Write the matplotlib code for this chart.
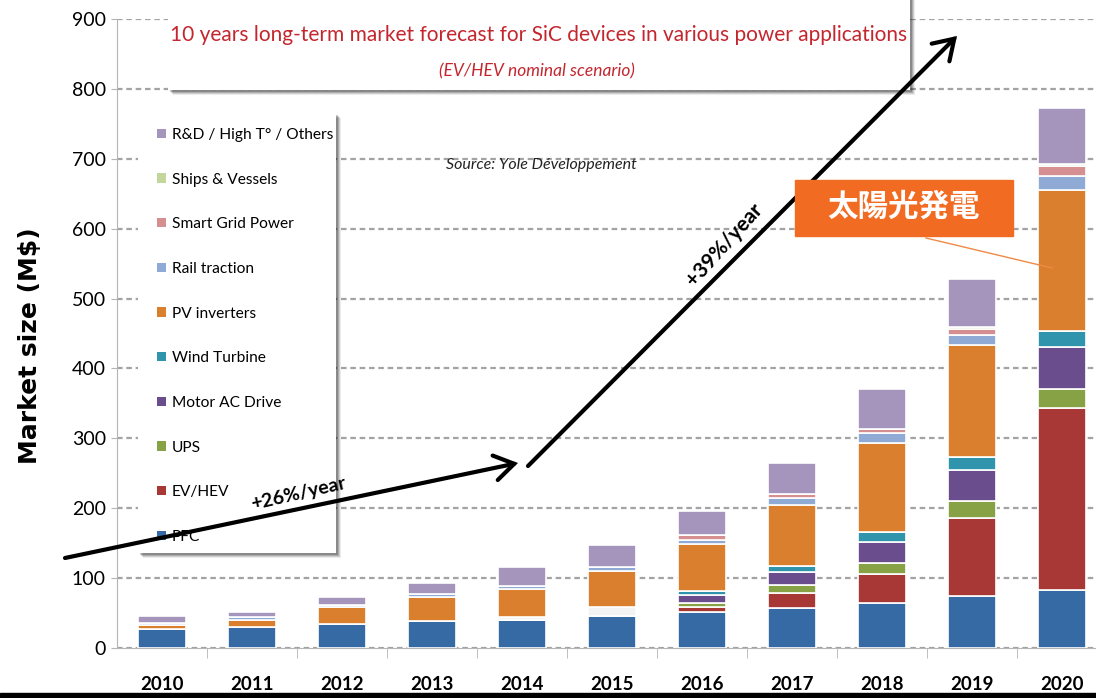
import matplotlib.pyplot as plt
import numpy as np
from matplotlib.patches import FancyArrowPatch, Rectangle

plt.rcParams["font.family"] = ["Lato", "DejaVu Sans"]

W, H = 1096, 698

years = ["2010", "2011", "2012", "2013", "2014", "2015",
         "2016", "2017", "2018", "2019", "2020"]

# market size per application, M$ (stacked bottom -> top)
pfc = [27, 30, 34, 38, 40, 46, 51, 57, 64, 74, 83]
ev_hev = [0, 0, 0, 0, 0, 0, 8, 22, 42, 112, 260]
ups = [0, 0, 0, 0, 0, 0, 6, 11, 16, 25, 28]
motor_ac = [0, 0, 0, 0, 0, 0, 11, 19, 30, 43, 59]
wind = [0, 0, 0, 0, 0, 0, 6, 8, 14, 19, 23]
unsplit = [0, 0, 0, 0, 5, 12, 0, 0, 0, 0, 0]
pv = [6, 10, 25, 35, 39, 52, 67, 88, 128, 160, 202]
rail = [3, 4, 2, 4, 5, 6, 6, 9, 13, 15, 21]
smart_grid = [0, 0, 0, 0, 0, 0, 6, 6, 6, 9, 13]
ships = [0, 0, 0, 0, 0, 0, 0, 0, 0, 3, 3]
others = [10, 8, 12, 16, 27, 31, 35, 45, 57, 68, 80]

series = [
    ("PFC", pfc, "#366aa5"),
    ("EV/HEV", ev_hev, "#a83836"),
    ("UPS", ups, "#86a244"),
    ("Motor AC Drive", motor_ac, "#6a4d8c"),
    ("Wind Turbine", wind, "#3194ad"),
    (None, unsplit, "#f3f3f3"),
    ("PV inverters", pv, "#da7f2d"),
    ("Rail traction", rail, "#8eaad5"),
    ("Smart Grid Power", smart_grid, "#d68f90"),
    ("Ships & Vessels", ships, "#c3d69b"),
    ("R&D / High T° / Others", others, "#a594bc"),
]


def fpos(x, y):
    # pixel position (from top-left) -> figure fraction
    return x / W, 1 - y / H


def shadow_box(x0, y0, w, h, z=2):
    # white panel with a soft drop shadow on the right / bottom
    for off, a in [(5, 0.08), (4, 0.12), (3, 0.16), (2, 0.2)]:
        fig.add_artist(Rectangle(fpos(x0 + off, y0 + h + off), w / W, h / H,
                                 transform=fig.transFigure, color="black",
                                 alpha=a, linewidth=0, zorder=z))
    fig.add_artist(Rectangle(fpos(x0, y0 + h), w / W, h / H,
                             transform=fig.transFigure, color="white",
                             linewidth=0, zorder=z))


fig = plt.figure(figsize=(W / 100, H / 100), dpi=100)
ax = fig.add_axes([117 / W, 50 / H, 990 / W, 629 / H])

x = np.arange(len(years))
bottom = np.zeros(len(years))
handles = {}
for name, vals, color in series:
    vals = np.array(vals, dtype=float)
    bars = ax.bar(x, vals, 0.54, bottom=bottom, color=color,
                  edgecolor="white", linewidth=1.2, zorder=3)
    if name:
        handles[name] = bars
    bottom += vals

ax.set_xlim(-0.5, len(years) - 0.5)
ax.set_ylim(0, 900)
ax.set_yticks(range(0, 901, 100))
ax.yaxis.grid(True, linestyle=(0, (2.5, 1.7)), linewidth=1.6, color="#a3a3a3")
ax.set_axisbelow(True)
for s in ["top", "right"]:
    ax.spines[s].set_visible(False)
ax.spines["left"].set_color("#b5b5b5")
ax.spines["bottom"].set_color("#b5b5b5")

ax.set_xticks(x)
ax.set_xticklabels(years, fontsize=13.5, fontweight="bold")
ax.set_xticks(np.arange(len(years) - 1) + 0.5, minor=True)
ax.tick_params(axis="x", which="major", length=0, pad=20)
ax.tick_params(axis="x", which="minor", length=7, color="#b5b5b5")
ax.tick_params(axis="y", length=4, color="#b5b5b5", labelsize=14, pad=4)

fig.text(*fpos(30, 346), "Market size (M$)", rotation=90, ha="center",
         va="center", fontsize=18, fontweight="bold", family="DejaVu Sans")

# title panel
shadow_box(168, -10, 742, 100)
fig.text(*fpos(539, 35),
         "10 years long-term market forecast for SiC devices in various power applications",
         ha="center", va="center", fontsize=15, color="#c4262e", zorder=3)
fig.text(*fpos(537, 71), "(EV/HEV nominal scenario)", ha="center", va="center",
         fontsize=12.5, style="italic", color="#c4262e", zorder=3)

fig.text(*fpos(541, 165), "Source: Yole Développement", ha="center", va="center",
         fontsize=11.5, style="italic", color="#222222")

# legend panel
shadow_box(138, 113, 198, 440)
order = ["R&D / High T° / Others", "Ships & Vessels", "Smart Grid Power",
         "Rail traction", "PV inverters", "Wind Turbine", "Motor AC Drive",
         "UPS", "EV/HEV", "PFC"]
leg = fig.legend([handles[k] for k in order], order, loc="upper left",
                 bbox_to_anchor=fpos(157, 128), frameon=False, fontsize=11.2,
                 handlelength=0.55, handleheight=0.55, handletextpad=0.4,
                 labelspacing=1.97, borderpad=0, borderaxespad=0)
for h in leg.legend_handles:
    h.set_edgecolor("none")
leg.set_zorder(3)

# growth arrows
arrow_kw = dict(transform=fig.transFigure, arrowstyle="->,head_length=0.7,head_width=0.45",
                mutation_scale=20, color="black", linewidth=3, zorder=6,
                shrinkA=0, shrinkB=0, capstyle="round", joinstyle="miter")
fig.add_artist(FancyArrowPatch(fpos(65, 558), fpos(518, 463), **arrow_kw))
fig.add_artist(FancyArrowPatch(fpos(528, 466), fpos(957, 36), **arrow_kw))
fig.text(*fpos(298, 494), "+26%/year", rotation=13, ha="center", va="center",
         fontsize=14, fontweight="bold", zorder=7)
fig.text(*fpos(724, 245), "+39%/year", rotation=48, ha="center", va="center",
         fontsize=15, fontweight="bold", zorder=7)

# PV callout
fig.add_artist(plt.Line2D([926 / W, 1052 / W], [1 - 238 / H, 1 - 268 / H],
                          transform=fig.transFigure, color="#ee8a46", linewidth=1,
                          zorder=6))
bx, by = fpos(795, 236)
fig.add_artist(Rectangle((bx, by), 218 / W, 56 / H, transform=fig.transFigure,
                         color="#f26b22", zorder=6))
fig.text(*fpos(904, 207), "太陽光発電", ha="center", va="center", fontsize=22,
         fontweight="bold", color="white", family=["Noto Sans CJK JP"], zorder=7)

# black strip along the bottom edge
fig.add_artist(Rectangle((0, 0), 1, 5 / H, transform=fig.transFigure,
                         color="black", zorder=8))

fig.savefig("out.png", dpi=100)
